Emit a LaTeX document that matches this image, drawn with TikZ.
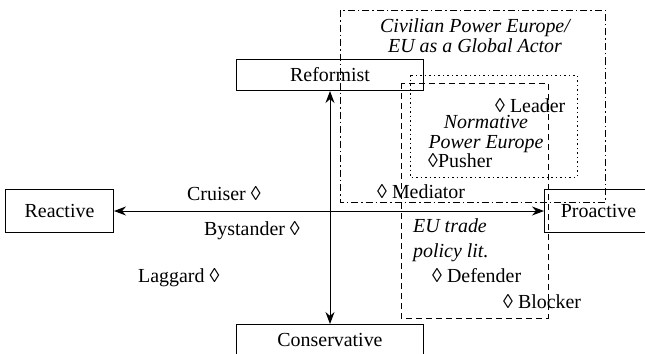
\documentclass[tikz,border=0pt]{standalone}
\usepackage{fontspec}
\setmainfont{Liberation Serif}
\usetikzlibrary{positioning, arrows.meta}

\begin{document}
\begin{tikzpicture}[x=1bp, y=-1bp,
    pole/.style={rectangle, draw, line width=1bp, inner sep=0pt, font=\fontsize{20}{20}\selectfont},
    arr/.style={{Stealth[length=12bp, width=9bp]}-{Stealth[length=12bp, width=9bp]}, line width=1bp},
    lbl/.style={anchor=base west, inner sep=0pt, font=\fontsize{20}{20}\selectfont},
    lit/.style={anchor=base, inner sep=0pt, font=\fontsize{20}{20}\selectfont\itshape},
    frame/.style={line width=0.9bp},
  ]
    \useasboundingbox (0,0) rectangle (645,353);
    \coordinate (c) at (330,211);

    \node[pole, minimum width=108bp, minimum height=43bp, left=216bp of c] (reactive) {Reactive};
    \node[pole, minimum width=108bp, minimum height=43bp, right=214bp of c] (proactive) {Proactive};
    \node[pole, minimum width=187bp, minimum height=31bp, above=120bp of c] (reformist) {Reformist};
    \node[pole, minimum width=187bp, minimum height=31bp, below=113bp of c] (conservative) {Conservative};

    \draw[arr] (reactive) -- (proactive);
    \draw[arr] (reformist) -- (conservative);

    % literature frames
    \draw[frame, dash pattern=on 7bp off 3bp on 1.5bp off 3bp] (340,10) rectangle (605,202);
    \draw[frame, dash pattern=on 1.5bp off 3bp] (410,75) rectangle (577,177);
    \draw[frame, dash pattern=on 6bp off 4bp] (401,83) rectangle (548,318);

    \node[lit] (cpe) at (475,32) {Civilian Power Europe/};
    \node[lit] (actor) at (475,52) {EU as a Global Actor};
    \node[lit] (npe) at (486,128) {Normative};
    \node[lit] (npe2) at (486,148) {Power Europe};
    \node[lbl, font=\fontsize{20}{20}\selectfont\itshape] (trade) at (413,232) {EU trade};
    \node[lbl, font=\fontsize{20}{20}\selectfont\itshape] (trade2) at (413,257) {policy lit.};

    \node[lbl] (leader) at (495,112) {◊ Leader};
    \node[lbl] (pusher) at (428,167) {◊Pusher};
    \node[lbl] (mediator) at (377,198) {◊ Mediator};
    \node[lbl] (defender) at (432,282) {◊ Defender};
    \node[lbl] (blocker) at (503,308) {◊ Blocker};
    \node[lbl] (cruiser) at (187,200) {Cruiser ◊};
    \node[lbl] (bystander) at (204,235) {Bystander ◊};
    \node[lbl] (laggard) at (138,282) {Laggard ◊};
\end{tikzpicture}
\end{document}
